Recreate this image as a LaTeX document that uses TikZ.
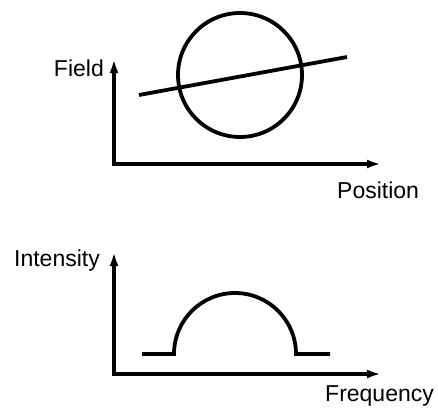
\documentclass[tikz,border=0pt]{standalone}
\usepackage{fontspec}
\setmainfont{Liberation Sans}
\usetikzlibrary{arrows.meta}
\begin{document}
\begin{tikzpicture}[x=1pt, y=1pt, >={Latex[length=14pt,width=9pt]},
    axis/.style={<->, line width=3.4pt},
    curve/.style={line width=3.8pt},
    lbl/.style={inner sep=0pt, font=\fontsize{23}{26}\selectfont}]
    \useasboundingbox (0,0) rectangle (438,408);

    % field against position
    \coordinate (O1) at (114,244);
    \coordinate (Y1) at (114,349);
    \coordinate (X1) at (381,244);
    \coordinate (C) at (240,333);
    \coordinate (P) at (139,313);
    \coordinate (Q) at (347,351);

    \draw[axis] (Y1) -- (O1) -- (X1);
    \draw[curve] (C) circle (62);
    \draw[curve] (P) -- (Q);
    \node[lbl, anchor=base east] (field) at (104,332) {Field};
    \node[lbl, anchor=base west] (pos) at (337,210) {Position};

    % intensity against frequency
    \coordinate (O2) at (114,34);
    \coordinate (Y2) at (114,156);
    \coordinate (X2) at (381,34);
    \coordinate (L) at (142,54);
    \coordinate (A) at (174,54);
    \coordinate (R) at (330,54);

    \draw[axis] (Y2) -- (O2) -- (X2);
    \draw[curve] (L) -- (A) arc[start angle=180, end angle=0, radius=61] -- (R);
    \node[lbl, anchor=base east] (int) at (100,142) {Intensity};
    \node[lbl, anchor=base west] (freq) at (325,7) {Frequency};
\end{tikzpicture}
\end{document}
